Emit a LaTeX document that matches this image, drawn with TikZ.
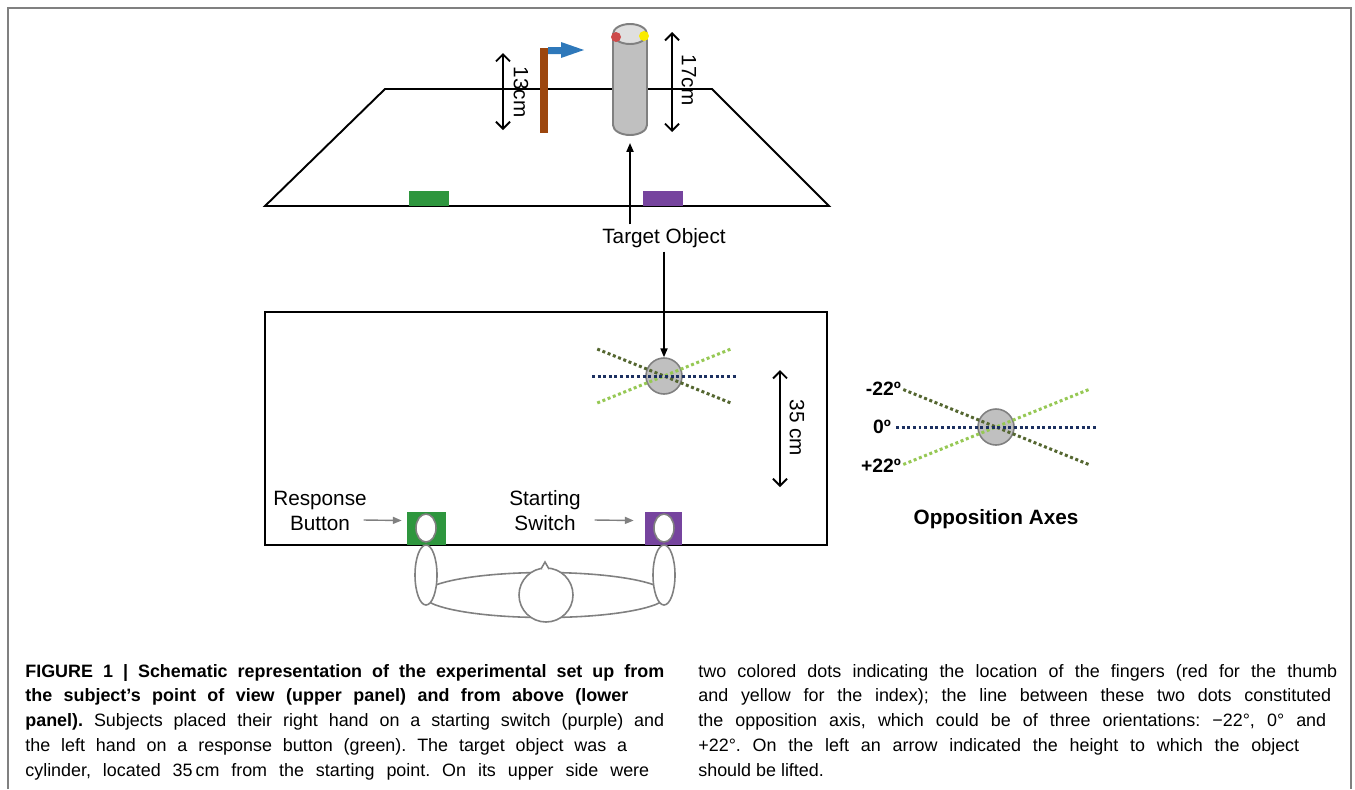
\documentclass[tikz,border=0pt]{standalone}
\usepackage{fontspec}
\setmainfont{Liberation Sans}
\newfontfamily\capfont{Liberation Sans}
\usetikzlibrary{calc,arrows.meta}

\definecolor{btngreen}{RGB}{46,150,62}
\definecolor{swpurple}{RGB}{118,68,158}
\definecolor{stickbrown}{RGB}{156,70,14}
\definecolor{flagblue}{RGB}{46,120,186}
\definecolor{axdark}{RGB}{84,102,48}
\definecolor{axlight}{RGB}{150,200,84}
\definecolor{axnavy}{RGB}{28,48,96}
\definecolor{objgray}{RGB}{192,192,192}
\definecolor{edgegray}{RGB}{128,128,128}
\definecolor{thumbred}{RGB}{205,75,75}
\definecolor{indexyellow}{RGB}{250,235,0}

\tikzset{
  lbl/.style={font=\fontsize{11.8}{14.2}\selectfont, inner sep=2pt},
  deglbl/.style={font=\fontsize{11}{13}\selectfont\bfseries, inner sep=1pt, anchor=east},
  dimarrow/.style={line width=1.1pt, {Straight Barb[length=4pt,width=8pt]}-{Straight Barb[length=4pt,width=8pt]}},
  ptr/.style={line width=0.9pt, -{Triangle[length=5pt,width=4pt]}},
  gptr/.style={draw=edgegray, line width=0.8pt, -{Triangle[length=5pt,width=4pt]}},
  body/.style={draw=edgegray, fill=white, line width=0.9pt},
  obj/.style={circle, draw=edgegray, fill=objgray, line width=0.9pt, minimum size=0.72cm, inner sep=0},
  ax/.style={line width=1.7pt, dash pattern=on 1.7pt off 1.5pt},
}
\def\handarm(#1){\draw[body] (#1,575) ellipse (11 and 30); \draw[body] (#1,528) ellipse (10 and 14);}
\def\oppaxes(#1:#2){\draw[ax, axdark] ($(#1)+(202:#2)$) -- ($(#1)+(22:#2)$);
  \draw[ax, axlight] ($(#1)+(158:#2)$) -- ($(#1)+(-22:#2)$);
  \draw[ax, axnavy] ($(#1)+(180:#2)$) -- ($(#1)+(0:#2)$);}
\def\capline[#1]#2{\makebox[#1][s]{#2}}

\begin{document}
\begin{tikzpicture}[x=0.02cm, y=-0.02cm]
			%%%%% START %%%%%
			\useasboundingbox (0,0) rectangle (1355,789);
			\draw[edgegray, line width=1pt] (8,789) -- (8,8) -- (1351,8) -- (1351,789);
			
			% upper panel
			\draw[line width=1.1pt] (265,206) -- (385,89) -- (712,89) -- (829,206) -- cycle;
			\fill[btngreen] (409,191) rectangle (449,206);
			\fill[swpurple] (643,191) rectangle (683,206);
			
			\fill[stickbrown] (540,48) rectangle (548,133);
			\fill[flagblue] (548,47) -- (561,47) -- (561,42) -- (584,50) -- (561,58) -- (561,54) -- (548,54) -- cycle;
			\draw[dimarrow] (503,53) -- (503,130);
			\node[lbl, rotate=-90] (h13) at (521,92) {13cm};
			
			\draw[fill=objgray, draw=edgegray, line width=1.1pt] (613,34) -- (613,125) arc (180:0:17 and 10) -- (647,34) -- cycle;
			\draw[fill=gray!25, draw=edgegray, line width=1.1pt] (630,34) ellipse (17 and 10);
			\fill[thumbred] (616,37) circle (5);
			\fill[indexyellow] (644,36) circle (5);
			\coordinate (cyl) at (630,143);
			\draw[dimarrow] (672,32) -- (672,132);
			\node[lbl, rotate=-90] (h17) at (689,80) {17cm};
			
			\node[lbl] (target) at (664,238) {Target Object};
			\draw[ptr] (target.north -| cyl) -- (cyl);
			
			% lower panel
			\draw[line width=1.1pt] (265,312) rectangle (827,545);
			\node[obj] (obj) at (664,376) {};
			\oppaxes(obj:72)
			\draw[ptr] (target.south) -- (obj.north);
			\draw[dimarrow] (780,370) -- (780,487);
			\node[lbl, rotate=-90] (d35) at (797,428) {35 cm};
			
			\node[fill=btngreen, minimum width=0.78cm, minimum height=0.66cm, inner sep=0] (gsq) at (426.5,528.5) {};
			\node[fill=swpurple, minimum width=0.74cm, minimum height=0.66cm, inner sep=0] (psq) at (663.5,528.5) {};
			\node[lbl, align=center] (resp) at (320,511) {Response\\Button};
			\node[lbl, align=center] (start) at (545,511) {Starting\\Switch};
			\draw[gptr] ($(resp.east)+(-7,9)$) -- ($(gsq.west)+(-5,-8)$);
			\draw[gptr] ($(start.east)+(10,9)$) -- ($(psq.west)+(-11,-8)$);
			
			% subject seen from above
			\draw[body] (545,595) ellipse (122 and 22.5);
			\handarm(426)
			\handarm(664)
			\draw[body] (546,595) circle (27);
			\draw[body] (541,569) -- (545,562) -- (549,569);
			
			% opposition axes
			\node[obj] (oa) at (996,427) {};
			\oppaxes(oa:100)
			\node[deglbl] (m22) at (903,389) {-22º};
			\node[deglbl] (z0) at (893,427) {0º};
			\node[deglbl] (p22) at (903,466) {+22º};
			\node[lbl, font=\fontsize{11.8}{14.2}\selectfont\bfseries] (oatitle) at (996,519) {Opposition Axes};
			
			% caption
			\node[anchor=base west, inner sep=0] (capleft) at (25,677) {\parbox[t]{13cm}{\capfont\fontsize{10.2}{14.17}\selectfont\frenchspacing
				\capline[12.78cm]{\bfseries FIGURE 1 | Schematic representation of the experimental set up from}\\
				\capline[12.06cm]{\bfseries the subject’s point of view (upper panel) and from above (lower}\\
				\capline[12.78cm]{\textbf{panel).} Subjects placed their right hand on a starting switch (purple) and}\\
				\capline[12.04cm]{the left hand on a response button (green). The target object was a}\\
				\capline[12.48cm]{cylinder, located 35\,cm from the starting point. On its upper side were}}};
			\node[anchor=base west, inner sep=0] (capright) at (698,677) {\parbox[t]{13cm}{\capfont\fontsize{10.2}{14.17}\selectfont\frenchspacing
				\capline[12.78cm]{two colored dots indicating the location of the fingers (red for the thumb}\\
				\capline[12.66cm]{and yellow for the index); the line between these two dots constituted}\\
				\capline[12.56cm]{the opposition axis, which could be of three orientations: −22°, 0° and}\\
				\capline[12.02cm]{+22°. On the left an arrow indicated the height to which the object}\\
				should be lifted.}};
			%%%%% END %%%%%
\end{tikzpicture}
\end{document}
